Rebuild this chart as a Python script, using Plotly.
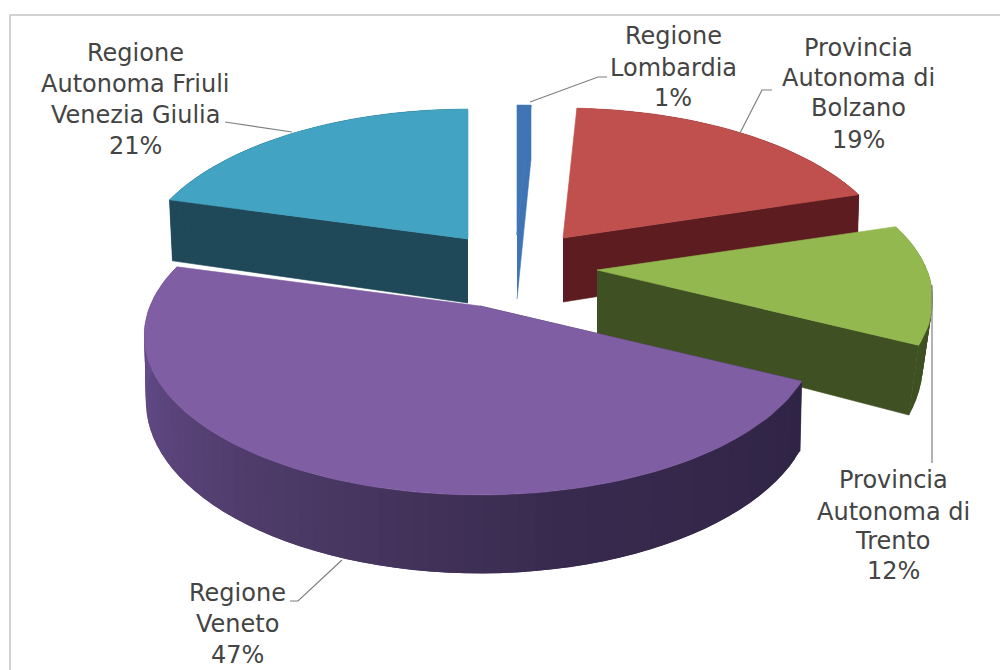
import math
import plotly.graph_objects as go

# ---- chart data ----
names = ["Regione Lombardia", "Provincia Autonoma di Bolzano", "Provincia Autonoma di Trento",
         "Regione Veneto", "Regione Autonoma Friuli Venezia Giulia"]
values = [0.8, 19.4, 12.2, 46.9, 20.7]
label_lines = [["Regione", "Lombardia", "1%"],
               ["Provincia", "Autonoma di", "Bolzano", "19%"],
               ["Provincia", "Autonoma di", "Trento", "12%"],
               ["Regione", "Veneto", "47%"],
               ["Regione", "Autonoma Friuli", "Venezia Giulia", "21%"]]
top_colors = ["#3f74b5", "#c0504d", "#93b84f", "#7f5ea3", "#43a3c3"]
cut_colors = ["#3f74b5", "#5c1c20", "#3f5123", "#3a2b52", "#1f4858"]
# exploded apex of every slice, in picture pixels
apex_x = [517, 563, 597, 480, 468]
apex_y = [235, 238, 270, 306, 239]
slice_scale = [1, 0.99, 1, 1.0, 0.985]
# how far the lower rim of a slice narrows towards its apex (perspective)
bottom_scale = [1, 0.995, 0.97, 0.995, 0.99]
# which cut face shows: 0 start edge, 1 end edge
cut_edge = [1, 1, 1, 0, 0]
draw_order = [0, 4, 1, 2, 3]
# label placement (centre x, y of each line)
label_x = [673, 858, 893, 237, 135]
label_y = [[36, 68, 98], [48, 78, 108, 140], [480, 512, 541, 571], [593, 624, 655], [53, 84, 115, 146]]
# leader lines
leader_x = [[530, 598, 607], [740, 762, 772], [225, 292], [932, 932], [342, 298, 290]]
leader_y = [[102, 77, 77], [133, 90, 90], [122, 132], [285, 463], [560, 601, 601]]
# shading of the Veneto wall, from its right end to its left end
shade_pos = [0.0, 0.3, 0.55, 0.8, 1.0]
shade_rgb = [(48, 36, 70), (56, 42, 78), (76, 58, 102), (96, 72, 132), (106, 80, 148)]

RX, RY, K, DEPTH = 330, 154, 0.185, 64
# the page adds an 8 px margin, so the axes start at 8 to keep picture pixels as data units
PAGE_OFFSET = 8


def project(theta, scale=1):
    u, v = math.sin(theta), -math.cos(theta)
    s = 1 / (1 - K * v)
    return scale * RX * u * s, RY * v * s, DEPTH * s


def arc(a0, a1, step=1.5):
    n = max(2, int(abs(a1 - a0) / step) + 1)
    return [math.radians(a0 + (a1 - a0) * i / (n - 1)) for i in range(n)]


def shade(t):
    for k in range(len(shade_pos) - 1):
        if t <= shade_pos[k + 1]:
            f = (t - shade_pos[k]) / (shade_pos[k + 1] - shade_pos[k])
            return "rgb(%d,%d,%d)" % tuple(round(shade_rgb[k][c] + (shade_rgb[k + 1][c] - shade_rgb[k][c]) * f)
                                           for c in range(3))
    return "rgb(%d,%d,%d)" % shade_rgb[-1]


fig = go.Figure()


def poly(xs, ys, color, width=0.6):
    fig.add_trace(go.Scatter(x=xs, y=ys, mode="lines", fill="toself", fillcolor=color,
                             line=dict(color=color, width=width), hoverinfo="skip", showlegend=False))


total = sum(values)
cum = [0]
for val in values:
    cum.append(cum[-1] + val / total * 360)

for i in draw_order:
    a0, a1 = cum[i], cum[i + 1]
    ax, ay, sc, bs = apex_x[i], apex_y[i], slice_scale[i], bottom_scale[i]
    # radial cut face
    edge = math.radians(a1 if cut_edge[i] else a0)
    px, py, d = project(edge, sc)
    poly([ax, ax + px, ax + px * bs, ax], [ay, ay + py, ay + py + d, ay + DEPTH], cut_colors[i])
    # outer wall, each strip overlapping the next so that no seams show
    wall = arc(a0, a1, 2.5)
    last = len(wall) - 1
    for j in range(last):
        p, q = project(wall[j], sc), project(wall[min(j + 2, last)], sc)
        color = shade(j / (last - 1)) if i == 3 else cut_colors[i]
        poly([ax + p[0], ax + q[0], ax + q[0] * bs, ax + p[0] * bs],
             [ay + p[1], ay + q[1], ay + q[1] + q[2], ay + p[1] + p[2]], color, 0)
    # top face
    pts = [project(t, sc) for t in arc(a0, a1)]
    poly([ax] + [ax + p[0] for p in pts] + [ax], [ay] + [ay + p[1] for p in pts] + [ay], top_colors[i])

for lx, ly in zip(leader_x, leader_y):
    fig.add_trace(go.Scatter(x=lx, y=ly, mode="lines", line=dict(color="#7f7f7f", width=1.2),
                             hoverinfo="skip", showlegend=False))

annotations = []
for lines, cx, ys in zip(label_lines, label_x, label_y):
    for line, y in zip(lines, ys):
        annotations.append(dict(x=cx, y=y, text=line, showarrow=False, xanchor="center", yanchor="middle",
                                font=dict(family="DejaVu Sans", size=24, color="#444444")))

fig.update_layout(
    width=1008, height=670, margin=dict(l=0, r=0, t=0, b=0),
    paper_bgcolor="white", plot_bgcolor="white", showlegend=False,
    xaxis=dict(range=[PAGE_OFFSET, 1008 + PAGE_OFFSET], visible=False, fixedrange=True),
    yaxis=dict(range=[670 + PAGE_OFFSET, PAGE_OFFSET], visible=False, fixedrange=True),
    annotations=annotations,
    shapes=[dict(type="rect", x0=10, y0=15, x1=1040, y1=700, line=dict(color="#c4c4c4", width=1.5))],
)
fig.write_html("out.html")
